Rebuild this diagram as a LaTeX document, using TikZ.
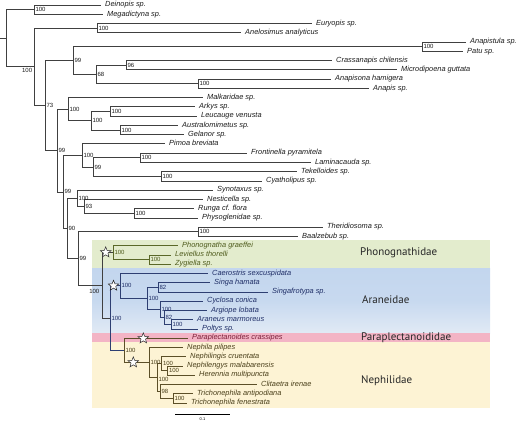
\documentclass[tikz,border=0pt]{standalone}
\usepackage{fontspec}
\setmainfont{Liberation Sans}
\newfontfamily\famfont{PT Sans}
\usetikzlibrary{shapes.geometric}
\definecolor{linegray}{HTML}{404040}
\definecolor{tipcol}{HTML}{1A1A1A}
\definecolor{phcol}{HTML}{4E5B1C}
\definecolor{phbr}{HTML}{5A6828}
\definecolor{arcol}{HTML}{1E2D66}
\definecolor{arbr}{HTML}{2E3F72}
\definecolor{pacol}{HTML}{7A1E38}
\definecolor{necol}{HTML}{4A3F1A}
\definecolor{nebr}{HTML}{5C4F28}
\definecolor{bandgreen}{HTML}{E3ECCD}
\definecolor{bandblue}{HTML}{C3D6EE}
\definecolor{bandbluelow}{HTML}{E1EAF5}
\definecolor{bandpink}{HTML}{F3B4C5}
\definecolor{bandyellow}{HTML}{FDF3D4}
\begin{document}
\begin{tikzpicture}[x=1pt,y=-1pt,
  br/.style={draw=linegray, line width=0.7pt},
  phb/.style={draw=phbr, line width=0.7pt},
  arb/.style={draw=arbr, line width=0.7pt},
  neb/.style={draw=nebr, line width=0.7pt},
  tip/.style={anchor=west, inner xsep=4pt, inner ysep=0pt, font=\fontsize{7.4}{8}\selectfont\itshape, text height=5.2pt, text depth=1.6pt, text=tipcol},
  bs/.style={anchor=west, inner xsep=1.3pt, inner ysep=0pt, font=\fontsize{6}{7}\selectfont, text=tipcol},
  fam/.style={anchor=west, font=\famfont\fontsize{11}{12}\selectfont, text=black!85, inner sep=0pt},
  starmark/.style={star, star points=5, star point ratio=2.3, draw=black!85, fill=white, line width=0.5pt, minimum size=11pt, inner sep=0pt}]
\useasboundingbox (0,0) rectangle (520,422);
% clade bands
\fill[bandgreen] (92,240) rectangle (490,268.3);
\shade[top color=bandblue, bottom color=bandbluelow, middle color=bandblue!85!bandbluelow] (92,268.3) rectangle (490,333.3);
\fill[bandpink] (92,333.3) rectangle (490,341.7);
\fill[bandyellow] (92,341.7) rectangle (490,408.3);
\node[fam] (fPh) at (360,253) {Phonognathidae};
\node[fam] (fAr) at (362,300) {Araneidae};
\node[fam] (fPa) at (361,337.5) {Paraplectanoididae};
\node[fam] (fNe) at (361,381) {Nephilidae};
% internal nodes
\coordinate (root0) at (0,38.2);
\coordinate (root) at (6,38.2);
\coordinate (n_dm) at (34,9.63);
\coordinate (n_r2) at (34,66.8);
\coordinate (n_ea) at (97,28.14);
\coordinate (n_A) at (45,105.5);
\coordinate (n_99a) at (73,60.53);
\coordinate (n_ap) at (422,46.65);
\coordinate (n_68) at (96,74.42);
\coordinate (n_cm) at (126,65.17);
\coordinate (n_aa) at (198,83.68);
\coordinate (n_B) at (57,150.5);
\coordinate (n_C) at (68,109.13);
\coordinate (n_91) at (91,120.7);
\coordinate (n_al) at (110,111.45);
\coordinate (n_ag) at (120,129.95);
\coordinate (n_D) at (63,191.9);
\coordinate (n_E) at (82,155.4);
\coordinate (n_93x) at (93,167);
\coordinate (n_fl) at (140,157.75);
\coordinate (n_tc) at (161,176.25);
\coordinate (n_F) at (67,228.4);
\coordinate (n_G) at (77,198.2);
\coordinate (n_93) at (84,206.3);
\coordinate (n_rp) at (134,213.25);
\coordinate (n_H) at (78,258.55);
\coordinate (n_I) at (198,231.75);
\coordinate (n_J) at (102,285.35);
\coordinate (n_ph) at (113,252.6);
\coordinate (n_lz) at (149,259.55);
\coordinate (n_K) at (110,318.1);
\coordinate (n_ar) at (120,285.85);
\coordinate (n_ss) at (158,287.3);
\coordinate (n_A2) at (147,298.3);
\coordinate (n_A3) at (160,309.3);
\coordinate (n_A4) at (164,317.4);
\coordinate (n_A5) at (171,324.35);
\coordinate (n_pn) at (124,350.35);
\coordinate (n_neph) at (149,362.5);
\coordinate (n_X) at (157,377.55);
\coordinate (n_Y) at (161.5,363.65);
\coordinate (n_Z) at (167.5,370.6);
\coordinate (n_W) at (160,391.45);
\coordinate (n_tri) at (173,398.4);
% tips
\node[tip] (t1) at (101,5.0) {Deinopis sp.};
\node[tip] (t2) at (103,14.26) {Megadictyna sp.};
\node[tip] (t3) at (312,23.51) {Euryopis sp.};
\node[tip] (t4) at (241,32.77) {Anelosimus analyticus};
\node[tip] (t5) at (466,42.02) {Anapistula sp.};
\node[tip] (t6) at (463,51.28) {Patu sp.};
\node[tip] (t7) at (332,60.54) {Crassanapis chilensis};
\node[tip] (t8) at (397,69.79) {Microdipoena guttata};
\node[tip] (t9) at (331,79.05) {Anapisona hamigera};
\node[tip] (t10) at (369,88.30) {Anapis sp.};
\node[tip] (t11) at (203,97.56) {Malkaridae sp.};
\node[tip] (t12) at (195,106.8) {Arkys sp.};
\node[tip] (t13) at (197,116.1) {Leucauge venusta};
\node[tip] (t14) at (178,125.3) {Australomimetus sp.};
\node[tip] (t15) at (184,134.6) {Gelanor sp.};
\node[tip] (t16) at (165,143.8) {Pimoa breviata};
\node[tip] (t17) at (247,153.1) {Frontinella pyramitela};
\node[tip] (t18) at (311,162.4) {Laminacauda sp.};
\node[tip] (t19) at (297,171.6) {Tekelloides sp.};
\node[tip] (t20) at (262,180.9) {Cyatholipus sp.};
\node[tip] (t21) at (213,190.1) {Synotaxus sp.};
\node[tip] (t22) at (203,199.4) {Nesticella sp.};
\node[tip] (t23) at (194,208.6) {Runga cf. flora};
\node[tip] (t24) at (198,217.9) {Physoglenidae sp.};
\node[tip] (t25) at (323,227.1) {Theridiosoma sp.};
\node[tip] (t26) at (298,236.4) {Baalzebub sp.};
\node[tip, text=phcol] (t27) at (178,245.7) {Phonognatha graeffei};
\node[tip, text=phcol] (t28) at (171,254.9) {Leviellus thorelli};
\node[tip, text=phcol] (t29) at (171,264.2) {Zygiella sp.};
\node[tip, text=arcol] (t30) at (208,273.4) {Caerostris sexcuspidata};
\node[tip, text=arcol] (t31) at (210,282.7) {Singa hamata};
\node[tip, text=arcol] (t32) at (268,291.9) {Singafrotypa sp.};
\node[tip, text=arcol] (t33) at (203,301.2) {Cyclosa conica};
\node[tip, text=arcol] (t34) at (207,310.4) {Argiope lobata};
\node[tip, text=arcol] (t35) at (193,319.7) {Araneus marmoreus};
\node[tip, text=arcol] (t36) at (198,329.0) {Poltys sp.};
\node[tip, text=pacol] (t37) at (188,338.2) {Paraplectanoides crassipes};
\node[tip, text=necol] (t38) at (183,347.5) {Nephila pilipes};
\node[tip, text=necol] (t39) at (186,356.7) {Nephilingis cruentata};
\node[tip, text=necol] (t40) at (183,366.0) {Nephilengys malabarensis};
\node[tip, text=necol] (t41) at (195,375.2) {Herennia multipuncta};
\node[tip, text=necol] (t42) at (257,384.5) {Clitaetra irenae};
\node[tip, text=necol] (t43) at (193,393.8) {Trichonephila antipodiana};
\node[tip, text=necol] (t44) at (187,403.0) {Trichonephila fenestrata};
% branches
\draw[br] (root0) -- (root);
\draw[br] (root) |- (n_dm);
\draw[br] (root) |- (n_r2);
\draw[br] (n_dm) |- (t1.west);
\draw[br] (n_dm) |- (t2.west);
\draw[br] (n_r2) |- (n_ea);
\draw[br] (n_r2) |- (n_A);
\draw[br] (n_ea) |- (t3.west);
\draw[br] (n_ea) |- (t4.west);
\draw[br] (n_A) |- (n_99a);
\draw[br] (n_A) |- (n_B);
\draw[br] (n_99a) |- (n_ap);
\draw[br] (n_99a) |- (n_68);
\draw[br] (n_ap) |- (t5.west);
\draw[br] (n_ap) |- (t6.west);
\draw[br] (n_68) |- (n_cm);
\draw[br] (n_68) |- (n_aa);
\draw[br] (n_cm) |- (t7.west);
\draw[br] (n_cm) |- (t8.west);
\draw[br] (n_aa) |- (t9.west);
\draw[br] (n_aa) |- (t10.west);
\draw[br] (n_B) |- (n_C);
\draw[br] (n_B) |- (n_D);
\draw[br] (n_C) |- (t11.west);
\draw[br] (n_C) |- (n_91);
\draw[br] (n_91) |- (n_al);
\draw[br] (n_91) |- (n_ag);
\draw[br] (n_al) |- (t12.west);
\draw[br] (n_al) |- (t13.west);
\draw[br] (n_ag) |- (t14.west);
\draw[br] (n_ag) |- (t15.west);
\draw[br] (n_D) |- (n_E);
\draw[br] (n_D) |- (n_F);
\draw[br] (n_E) |- (t16.west);
\draw[br] (n_E) |- (n_93x);
\draw[br] (n_93x) |- (n_fl);
\draw[br] (n_93x) |- (n_tc);
\draw[br] (n_fl) |- (t17.west);
\draw[br] (n_fl) |- (t18.west);
\draw[br] (n_tc) |- (t19.west);
\draw[br] (n_tc) |- (t20.west);
\draw[br] (n_F) |- (n_G);
\draw[br] (n_F) |- (n_H);
\draw[br] (n_G) |- (t21.west);
\draw[br] (n_G) |- (n_93);
\draw[br] (n_93) |- (t22.west);
\draw[br] (n_93) |- (n_rp);
\draw[br] (n_rp) |- (t23.west);
\draw[br] (n_rp) |- (t24.west);
\draw[br] (n_H) |- (n_I);
\draw[br] (n_H) |- (n_J);
\draw[br] (n_I) |- (t25.west);
\draw[br] (n_I) |- (t26.west);
\draw[br] (n_J) |- (n_ph);
\draw[br] (n_J) |- (n_K);
\draw[phb] (n_ph) |- (t27.west);
\draw[phb] (n_ph) |- (n_lz);
\draw[phb] (n_lz) |- (t28.west);
\draw[phb] (n_lz) |- (t29.west);
\draw[arb] (n_K) |- (n_ar);
\draw[arb] (n_K) |- (n_pn);
\draw[arb] (n_ar) |- (t30.west);
\draw[arb] (n_ar) |- (n_A2);
\draw[arb] (n_A2) |- (n_ss);
\draw[arb] (n_A2) |- (n_A3);
\draw[arb] (n_ss) |- (t31.west);
\draw[arb] (n_ss) |- (t32.west);
\draw[arb] (n_A3) |- (t33.west);
\draw[arb] (n_A3) |- (n_A4);
\draw[arb] (n_A4) |- (t34.west);
\draw[arb] (n_A4) |- (n_A5);
\draw[arb] (n_A5) |- (t35.west);
\draw[arb] (n_A5) |- (t36.west);
\draw[neb] (n_pn) |- (t37.west);
\draw[neb] (n_pn) |- (n_neph);
\draw[neb] (n_neph) |- (t38.west);
\draw[neb] (n_neph) |- (n_X);
\draw[neb] (n_X) |- (n_Y);
\draw[neb] (n_X) |- (n_W);
\draw[neb] (n_Y) |- (t39.west);
\draw[neb] (n_Y) |- (n_Z);
\draw[neb] (n_Z) |- (t40.west);
\draw[neb] (n_Z) |- (t41.west);
\draw[neb] (n_W) |- (t42.west);
\draw[neb] (n_W) |- (n_tri);
\draw[neb] (n_tri) |- (t43.west);
\draw[neb] (n_tri) |- (t44.west);
% support values
\node[bs] (b_dm) at (n_dm) {100};
\node[bs, anchor=east] (b_r2) at (33.6,70.6) {100};
\node[bs] (b_ea) at (n_ea) {100};
\node[bs] (b_A) at (n_A) {73};
\node[bs] (b_99a) at (n_99a) {99};
\node[bs] (b_ap) at (n_ap) {100};
\node[bs] (b_68) at (n_68) {68};
\node[bs] (b_cm) at (n_cm) {96};
\node[bs] (b_aa) at (n_aa) {100};
\node[bs] (b_B) at (n_B) {99};
\node[bs] (b_C) at (n_C) {100};
\node[bs] (b_91) at (n_91) {100};
\node[bs] (b_al) at (n_al) {100};
\node[bs] (b_ag) at (n_ag) {100};
\node[bs] (b_D) at (n_D) {99};
\node[bs] (b_E) at (n_E) {100};
\node[bs] (b_93x) at (n_93x) {99};
\node[bs] (b_fl) at (n_fl) {100};
\node[bs] (b_tc) at (n_tc) {100};
\node[bs] (b_F) at (n_F) {90};
\node[bs] (b_G) at (n_G) {100};
\node[bs] (b_93) at (n_93) {93};
\node[bs] (b_rp) at (n_rp) {100};
\node[bs] (b_H) at (n_H) {99};
\node[bs] (b_I) at (n_I) {100};
\node[bs, anchor=east] (b_J) at (100.8,291.2) {100};
\node[bs, text=phcol] (b_ph) at (n_ph) {100};
\node[bs, text=phcol] (b_lz) at (n_lz) {100};
\node[bs, text=arcol] (b_K) at (n_K) {100};
\node[bs, text=arcol] (b_ar) at (n_ar) {100};
\node[bs, text=arcol] (b_ss) at (n_ss) {82};
\node[bs, text=arcol] (b_A2) at (n_A2) {100};
\node[bs, text=arcol] (b_A3) at (n_A3) {100};
\node[bs, text=arcol] (b_A4) at (n_A4) {82};
\node[bs, text=arcol] (b_A5) at (n_A5) {100};
\node[bs, text=necol] (b_pn) at (n_pn) {100};
\node[bs, text=necol] (b_neph) at (n_neph) {100};
\node[bs, text=necol, anchor=north west] (b_X) at (n_X) {100};
\node[bs, text=necol] (b_Y) at (n_Y) {100};
\node[bs, text=necol] (b_Z) at (n_Z) {100};
\node[bs, text=necol] (b_W) at (n_W) {98};
\node[bs, text=necol] (b_tri) at (n_tri) {100};
% stars
\node[starmark] (s1) at (105.7,252.4) {};
\node[starmark] (s2) at (113.5,285.7) {};
\node[starmark] (s3) at (143.3,338.4) {};
\node[starmark] (s4) at (133.3,362.4) {};
% scale bar
\coordinate (sb1) at (175,414);
\coordinate (sb2) at (230,414);
\draw[draw=black, line width=0.6pt] (sb1) -- (sb2);
\node[font=\fontsize{4}{4}\selectfont, inner sep=0pt] (sbl) at (202.5,419.3) {0.1};
\end{tikzpicture}
\end{document}
